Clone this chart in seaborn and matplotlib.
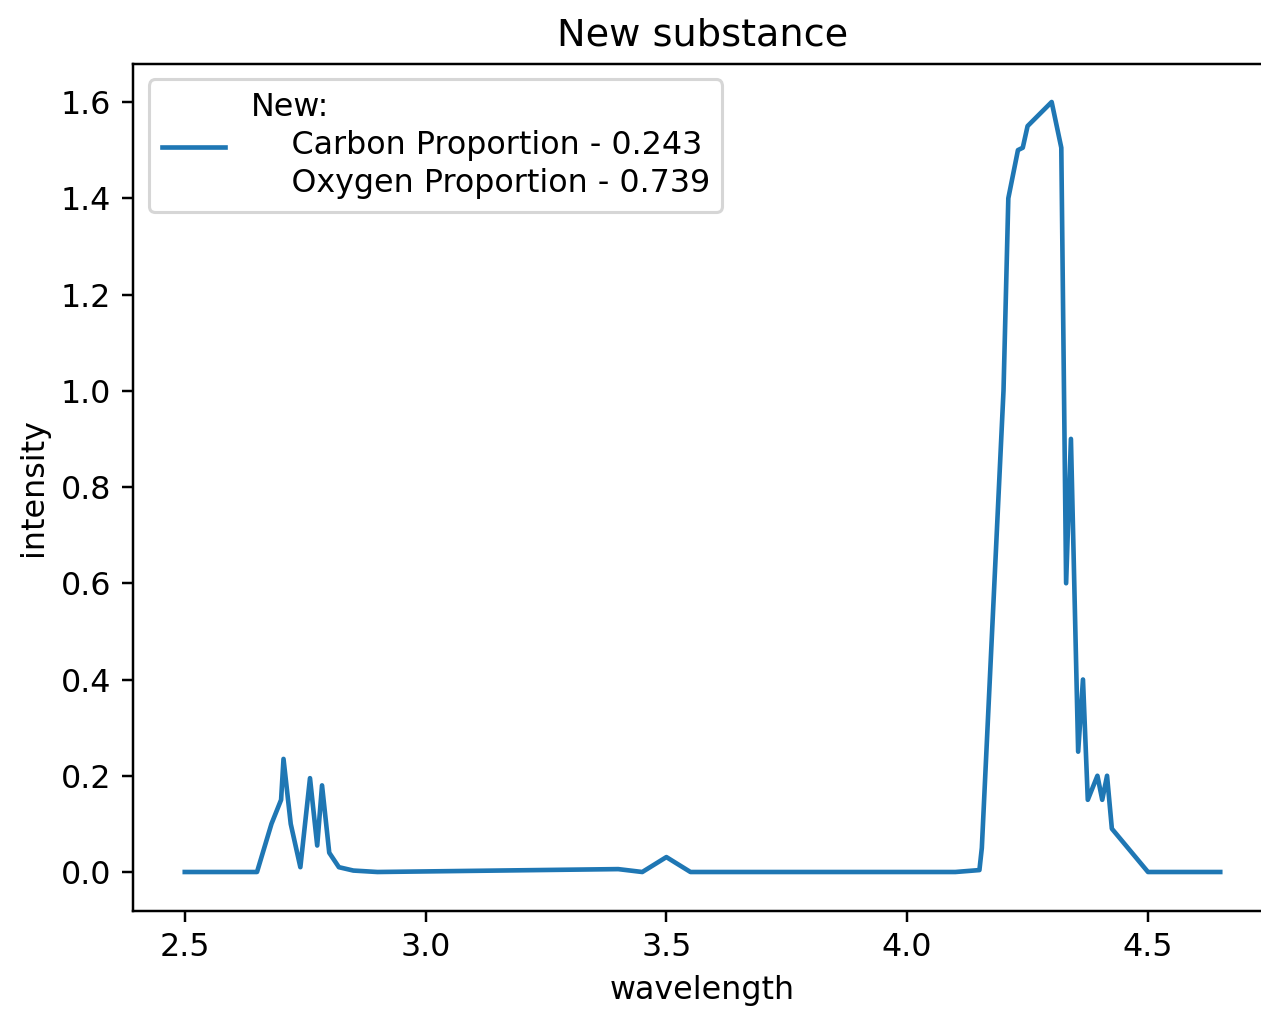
import matplotlib
matplotlib.use("Agg")
import matplotlib.pyplot as plt
import seaborn as sns
import pandas as pd

wavelength = [2.50, 2.65, 2.68, 2.70, 2.705, 2.72, 2.74, 2.76, 2.775, 2.785,
              2.80, 2.82, 2.85, 2.90, 3.40, 3.45, 3.50, 3.55, 4.10, 4.15,
              4.155, 4.20, 4.21, 4.23, 4.24, 4.25, 4.30, 4.32, 4.33, 4.34,
              4.355, 4.365, 4.375, 4.395, 4.405, 4.415, 4.425, 4.50, 4.65]
intensity = [0.0, 0.0, 0.10, 0.15, 0.235, 0.10, 0.01, 0.195, 0.055, 0.18,
             0.04, 0.01, 0.003, 0.0, 0.006, 0.0, 0.031, 0.0, 0.0, 0.004,
             0.05, 1.0, 1.40, 1.50, 1.505, 1.55, 1.60, 1.505, 0.60, 0.90,
             0.25, 0.40, 0.15, 0.20, 0.15, 0.20, 0.09, 0.0, 0.0]

label = "New:\n    Carbon Proportion - 0.243\n    Oxygen Proportion - 0.739"

df = pd.DataFrame({"wavelength": wavelength, "intensity": intensity})

plt.rcParams["font.size"] = 10.3

dpi = 222
fig = plt.figure(figsize=(1261 / dpi, 1010 / dpi), dpi=dpi)
ax = fig.add_axes([133 / 1261, 1 - 910.5 / 1010, (1272 - 133) / 1261, (910.5 - 63.5) / 1010])

sns.lineplot(data=df, x="wavelength", y="intensity", ax=ax, color="#1f77b4",
             label=label, sort=False, linewidth=1.5)

ax.set_title("New substance", fontsize=12.4)
ax.set_xlabel("wavelength")
ax.set_ylabel("intensity")
ax.set_xticks([2.5, 3.0, 3.5, 4.0, 4.5])
ax.set_yticks([0.0, 0.2, 0.4, 0.6, 0.8, 1.0, 1.2, 1.4, 1.6])
ax.spines["right"].set_visible(False)
leg = ax.legend(loc="upper left")
for t in leg.get_texts():
    t.set_linespacing(1.3)

fig.savefig("out.png", dpi=dpi)
